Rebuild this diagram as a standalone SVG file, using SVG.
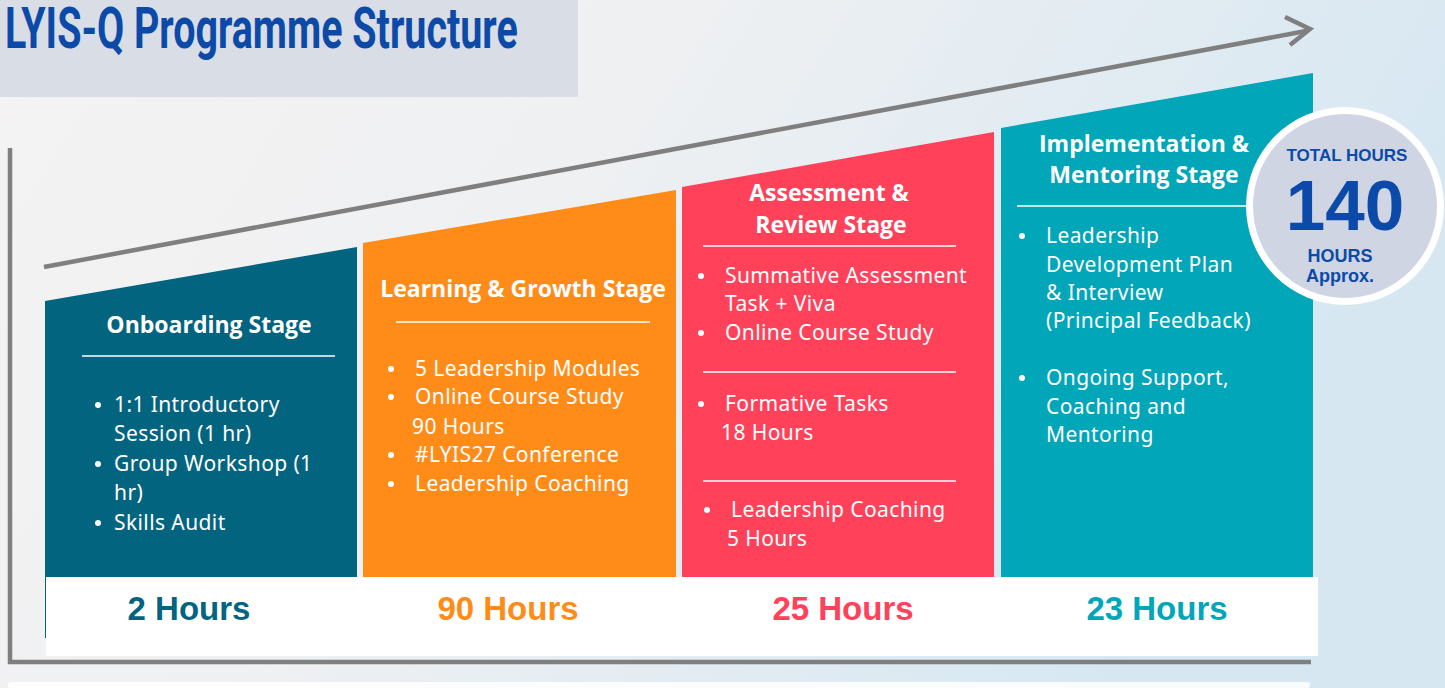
<svg xmlns="http://www.w3.org/2000/svg" width="1445" height="688" viewBox="0 0 1445 688">
  <defs>
    <linearGradient id="bg" x1="0" y1="0" x2="1" y2="0.3">
      <stop offset="0" stop-color="#f5f3f3"/>
      <stop offset="0.45" stop-color="#eef0f2"/>
      <stop offset="1" stop-color="#d6e7f2"/>
    </linearGradient>
    <style>
      .axis{stroke:#7f7f7f;stroke-width:4.5;fill:none;}
      .hdr{font-family:"Open Sans","Noto Sans",sans-serif;font-weight:700;font-size:23px;fill:#ffffff;text-anchor:middle;}
      .body{font-family:"Noto Sans","Open Sans",sans-serif;font-size:21px;letter-spacing:0.4px;fill:#ffffff;}
      .rule{stroke:#ffffff;stroke-width:1.6;}
      .hrs{font-family:"Liberation Sans",Arial,sans-serif;font-weight:700;font-size:33px;text-anchor:middle;}
      .tot{font-family:"Liberation Sans",Arial,sans-serif;font-weight:700;fill:#0b4aa8;text-anchor:middle;}
    </style>
  </defs>

  <rect x="0" y="0" width="1445" height="688" fill="url(#bg)"/>
  <rect x="8" y="682" width="1302" height="6" rx="2" fill="#ffffff" opacity="0.85"/>

  <g id="title">
    <rect x="0" y="0" width="578" height="97" fill="#d9dde6"/>
    <text transform="translate(5,48) scale(0.68,1)" x="0" y="0" font-family="Roboto,'Liberation Sans',sans-serif" font-weight="700" font-size="58" fill="#0b4aa8">LYIS-Q Programme Structure</text>
  </g>

  <g id="connectors">
    <line class="axis" x1="10" y1="148" x2="10" y2="664"/>
    <line class="axis" x1="8" y1="662" x2="1311" y2="662"/>
    <line class="axis" x1="44" y1="267" x2="1306" y2="31"/>
    <polyline class="axis" points="1285,17 1310,29 1290,45" stroke-width="6" stroke-linejoin="miter"/>
  </g>

  <g id="stage-onboarding">
    <polygon points="45,301 357,247 357,638 45,638" fill="#03647f"/>
    <text class="hdr" x="209" y="333">Onboarding Stage</text>
    <line class="rule" x1="82" y1="356" x2="335" y2="356"/>
    <g class="body">
      <circle cx="98" cy="405" r="3" fill="#fff"/>
      <text x="114" y="412">1:1 Introductory</text>
      <text x="114" y="441">Session (1 hr)</text>
      <circle cx="98" cy="464" r="3" fill="#fff"/>
      <text x="114" y="471">Group Workshop (1</text>
      <text x="114" y="500">hr)</text>
      <circle cx="98" cy="523" r="3" fill="#fff"/>
      <text x="114" y="530">Skills Audit</text>
    </g>
  </g>

  <g id="stage-learning">
    <polygon points="363,243 676,190 676,638 363,638" fill="#ff8c19"/>
    <text class="hdr" x="523" y="297">Learning &amp; Growth Stage</text>
    <line class="rule" x1="396" y1="322" x2="650" y2="322"/>
    <g class="body">
      <circle cx="391" cy="369" r="3" fill="#fff"/>
      <text x="415" y="376">5 Leadership Modules</text>
      <circle cx="391" cy="397" r="3" fill="#fff"/>
      <text x="415" y="404">Online Course Study</text>
      <text x="412" y="434">90 Hours</text>
      <circle cx="391" cy="455" r="3" fill="#fff"/>
      <text x="415" y="462">#LYIS27 Conference</text>
      <circle cx="391" cy="484" r="3" fill="#fff"/>
      <text x="415" y="491">Leadership Coaching</text>
    </g>
  </g>

  <g id="stage-assessment">
    <polygon points="682,187 994,132 994,638 682,638" fill="#ff415a"/>
    <text class="hdr" x="829" y="201">Assessment &amp;</text>
    <text class="hdr" x="831" y="233">Review Stage</text>
    <line class="rule" x1="703" y1="246" x2="956" y2="246"/>
    <g class="body">
      <circle cx="701" cy="276" r="3" fill="#fff"/>
      <text x="725" y="283">Summative Assessment</text>
      <text x="725" y="311">Task + Viva</text>
      <circle cx="701" cy="333" r="3" fill="#fff"/>
      <text x="725" y="340">Online Course Study</text>
      <line class="rule" x1="703" y1="372" x2="956" y2="372"/>
      <circle cx="701" cy="404" r="3" fill="#fff"/>
      <text x="725" y="411">Formative Tasks</text>
      <text x="721" y="440">18 Hours</text>
      <line class="rule" x1="703" y1="481" x2="956" y2="481"/>
      <circle cx="707" cy="510" r="3" fill="#fff"/>
      <text x="731" y="517">Leadership Coaching</text>
      <text x="727" y="546">5 Hours</text>
    </g>
  </g>

  <g id="stage-implementation">
    <polygon points="1001,128 1313,73 1313,638 1001,638" fill="#01a6b9"/>
    <text class="hdr" x="1144" y="152">Implementation &amp;</text>
    <text class="hdr" x="1144" y="183">Mentoring Stage</text>
    <line class="rule" x1="1017" y1="206" x2="1250" y2="206"/>
    <g class="body">
      <circle cx="1022" cy="236" r="3" fill="#fff"/>
      <text x="1046" y="243">Leadership</text>
      <text x="1046" y="272">Development Plan</text>
      <text x="1046" y="300">&amp; Interview</text>
      <text x="1046" y="328">(Principal Feedback)</text>
      <circle cx="1022" cy="378" r="3" fill="#fff"/>
      <text x="1046" y="385">Ongoing Support,</text>
      <text x="1046" y="414">Coaching and</text>
      <text x="1046" y="442">Mentoring</text>
    </g>
  </g>

  <g id="hours-band">
    <rect x="46" y="577" width="1272" height="79" fill="#ffffff"/>
    <text class="hrs" x="189" y="620" fill="#03647f">2 Hours</text>
    <text class="hrs" x="508" y="620" fill="#ff8c19">90 Hours</text>
    <text class="hrs" x="843" y="620" fill="#ff415a">25 Hours</text>
    <text class="hrs" x="1157" y="620" fill="#01a6b9">23 Hours</text>
  </g>

  <g id="total-hours">
    <circle cx="1345" cy="206" r="99" fill="#ffffff"/>
    <circle cx="1345" cy="206" r="92" fill="#d0d5e3"/>
    <text class="tot" x="1347" y="161" font-size="17">TOTAL HOURS</text>
    <text class="tot" x="1345" y="230" font-size="71">140</text>
    <text class="tot" x="1340" y="262" font-size="18">HOURS</text>
    <text class="tot" x="1340" y="282" font-size="18">Approx.</text>
  </g>
</svg>
